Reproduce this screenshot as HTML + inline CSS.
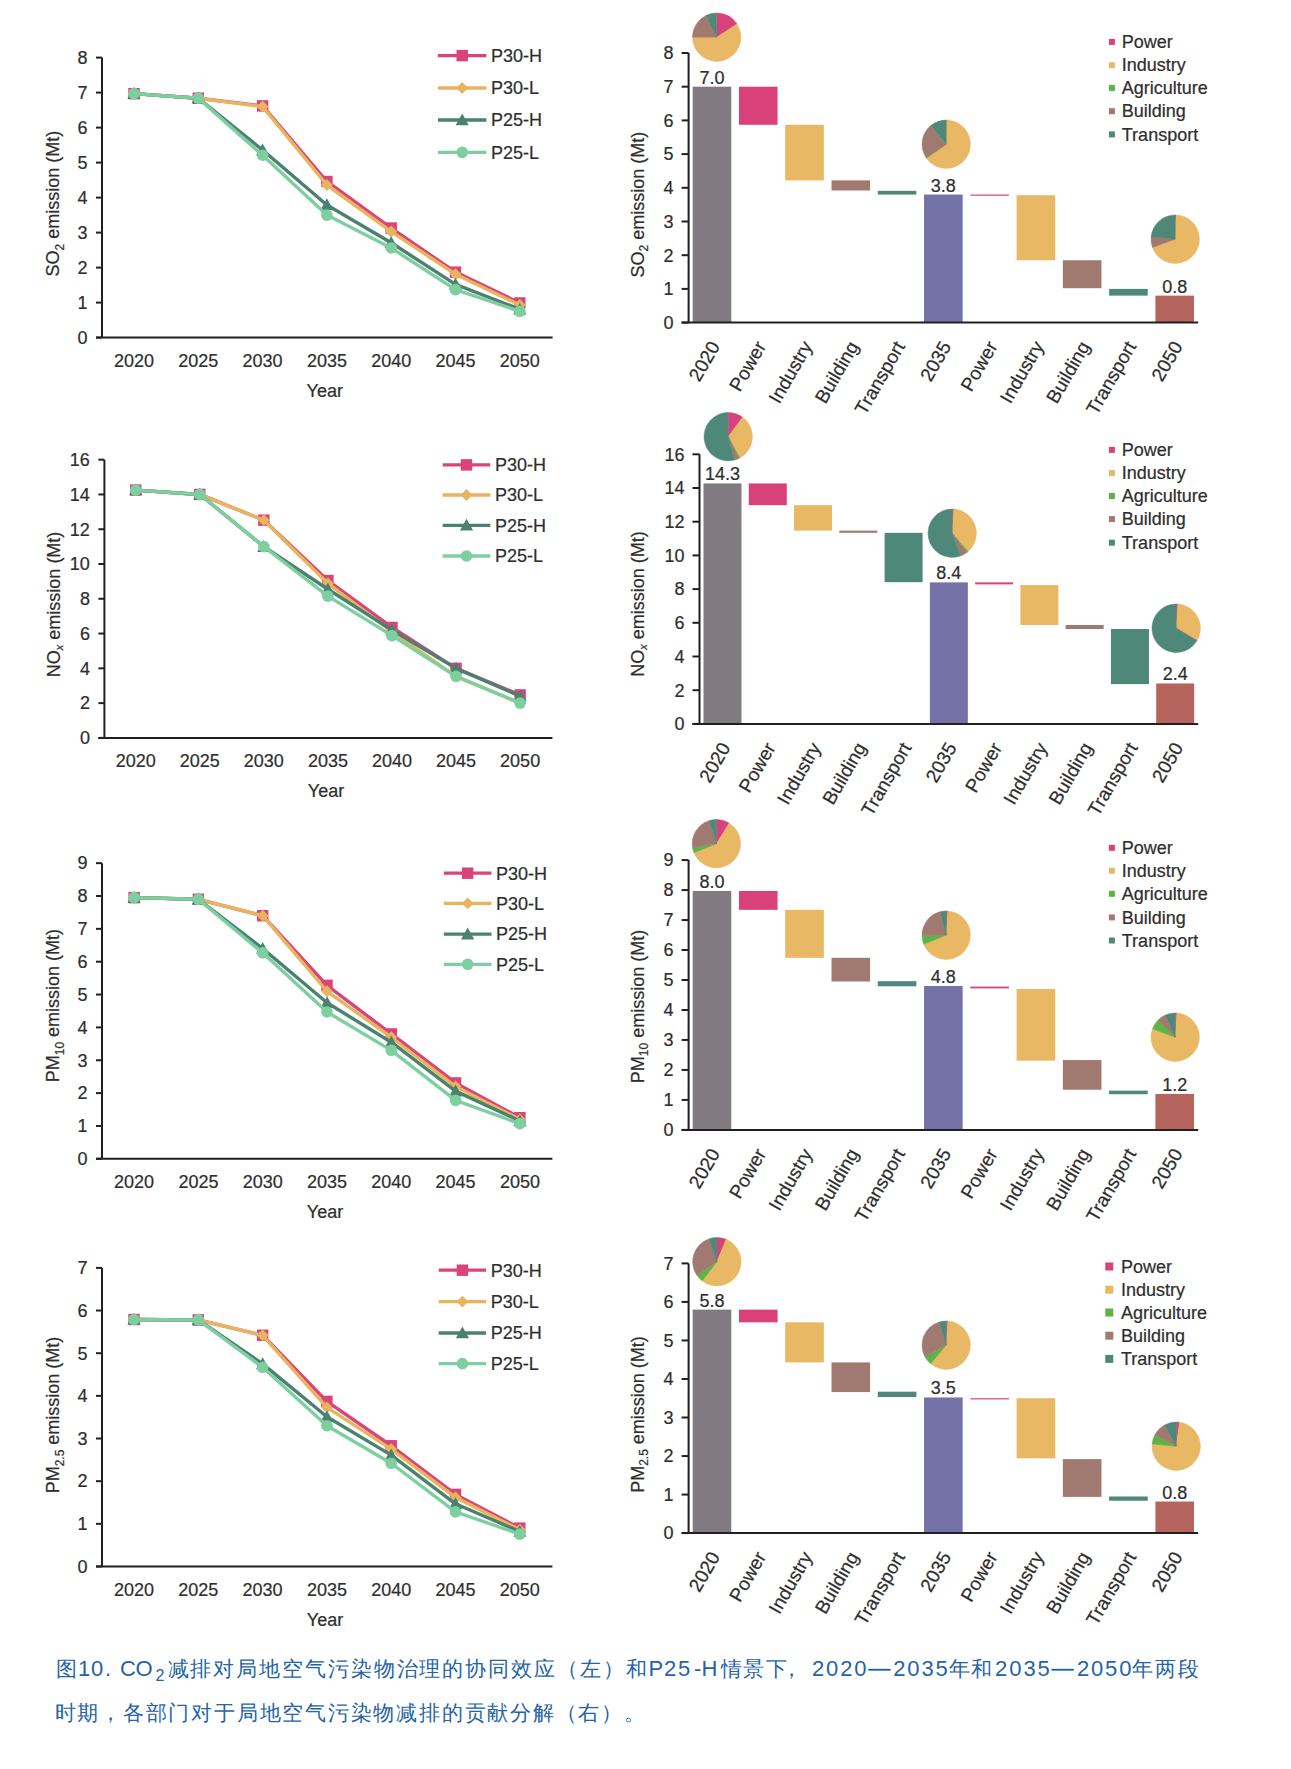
<!DOCTYPE html><html><head><meta charset="utf-8"><style>html,body{margin:0;padding:0;background:#fff;width:1291px;height:1769px;overflow:hidden}svg{display:block}</style></head><body>
<svg width="1291" height="1769" viewBox="0 0 1291 1769" font-family="'Liberation Sans', sans-serif" font-size="18" fill="#2e2e2e">
<style>svg text{stroke:#303030;stroke-width:0.22px}</style>
<rect width="1291" height="1769" fill="#fff"/>
<path d="M102 57.6V337.6" stroke="#231f20" stroke-width="2" fill="none"/>
<path d="M96 337.6H552.6" stroke="#231f20" stroke-width="2" fill="none"/>
<path d="M96 337.6H102" stroke="#231f20" stroke-width="2"/>
<text x="87.5" y="343.9" text-anchor="end">0</text>
<path d="M96 302.6H102" stroke="#231f20" stroke-width="2"/>
<text x="87.5" y="308.9" text-anchor="end">1</text>
<path d="M96 267.6H102" stroke="#231f20" stroke-width="2"/>
<text x="87.5" y="273.9" text-anchor="end">2</text>
<path d="M96 232.6H102" stroke="#231f20" stroke-width="2"/>
<text x="87.5" y="238.9" text-anchor="end">3</text>
<path d="M96 197.6H102" stroke="#231f20" stroke-width="2"/>
<text x="87.5" y="203.9" text-anchor="end">4</text>
<path d="M96 162.6H102" stroke="#231f20" stroke-width="2"/>
<text x="87.5" y="168.9" text-anchor="end">5</text>
<path d="M96 127.6H102" stroke="#231f20" stroke-width="2"/>
<text x="87.5" y="133.9" text-anchor="end">6</text>
<path d="M96 92.6H102" stroke="#231f20" stroke-width="2"/>
<text x="87.5" y="98.9" text-anchor="end">7</text>
<path d="M96 57.6H102" stroke="#231f20" stroke-width="2"/>
<text x="87.5" y="63.9" text-anchor="end">8</text>
<text x="134" y="366.6" text-anchor="middle">2020</text>
<text x="198.3" y="366.6" text-anchor="middle">2025</text>
<text x="262.6" y="366.6" text-anchor="middle">2030</text>
<text x="326.9" y="366.6" text-anchor="middle">2035</text>
<text x="391.2" y="366.6" text-anchor="middle">2040</text>
<text x="455.5" y="366.6" text-anchor="middle">2045</text>
<text x="519.8" y="366.6" text-anchor="middle">2050</text>
<text x="324.8" y="397.1" text-anchor="middle">Year</text>
<text transform="translate(59 203.7) rotate(-90)" text-anchor="middle">SO<tspan font-size="12" dy="4.5">2</tspan><tspan dy="-4.5"> emission (Mt)</tspan></text>
<path d="M134 93.65 L198.3 98.2 L262.6 105.9 L326.9 181.5 L391.2 228.05 L455.5 272.15 L519.8 302.95" stroke="#d9447a" stroke-width="3.4" fill="none" stroke-linejoin="round"/>
<rect x="128.28" y="87.93" width="11.44" height="11.44" fill="#d9447a"/>
<rect x="192.58" y="92.48" width="11.44" height="11.44" fill="#d9447a"/>
<rect x="256.88" y="100.18" width="11.44" height="11.44" fill="#d9447a"/>
<rect x="321.18" y="175.78" width="11.44" height="11.44" fill="#d9447a"/>
<rect x="385.48" y="222.33" width="11.44" height="11.44" fill="#d9447a"/>
<rect x="449.78" y="266.43" width="11.44" height="11.44" fill="#d9447a"/>
<rect x="514.08" y="297.23" width="11.44" height="11.44" fill="#d9447a"/>
<path d="M134 93.65 L198.3 98.2 L262.6 106.6 L326.9 185 L391.2 231.55 L455.5 274.25 L519.8 305.05" stroke="#e8b45e" stroke-width="3.4" fill="none" stroke-linejoin="round"/>
<path d="M134 87.71L139.94 93.65L134 99.59L128.06 93.65Z" fill="#e8b45e"/>
<path d="M198.3 92.26L204.24 98.2L198.3 104.14L192.36 98.2Z" fill="#e8b45e"/>
<path d="M262.6 100.66L268.54 106.6L262.6 112.54L256.66 106.6Z" fill="#e8b45e"/>
<path d="M326.9 179.06L332.84 185L326.9 190.94L320.96 185Z" fill="#e8b45e"/>
<path d="M391.2 225.61L397.14 231.55L391.2 237.49L385.26 231.55Z" fill="#e8b45e"/>
<path d="M455.5 268.31L461.44 274.25L455.5 280.19L449.56 274.25Z" fill="#e8b45e"/>
<path d="M519.8 299.11L525.74 305.05L519.8 310.99L513.86 305.05Z" fill="#e8b45e"/>
<path d="M134 93.65 L198.3 98.2 L262.6 150 L326.9 204.95 L391.2 242.75 L455.5 284.4 L519.8 309.25" stroke="#4a8170" stroke-width="3.4" fill="none" stroke-linejoin="round"/>
<path d="M134 87.05L140.6 98.93L127.4 98.93Z" fill="#4a8170"/>
<path d="M198.3 91.6L204.9 103.48L191.7 103.48Z" fill="#4a8170"/>
<path d="M262.6 143.4L269.2 155.28L256 155.28Z" fill="#4a8170"/>
<path d="M326.9 198.35L333.5 210.23L320.3 210.23Z" fill="#4a8170"/>
<path d="M391.2 236.15L397.8 248.03L384.6 248.03Z" fill="#4a8170"/>
<path d="M455.5 277.8L462.1 289.68L448.9 289.68Z" fill="#4a8170"/>
<path d="M519.8 302.65L526.4 314.53L513.2 314.53Z" fill="#4a8170"/>
<path d="M134 93.65 L198.3 98.2 L262.6 155.25 L326.9 215.1 L391.2 248 L455.5 289.65 L519.8 311.35" stroke="#7ecfa0" stroke-width="3.4" fill="none" stroke-linejoin="round"/>
<circle cx="134" cy="93.65" r="5.83" fill="#7ecfa0"/>
<circle cx="198.3" cy="98.2" r="5.83" fill="#7ecfa0"/>
<circle cx="262.6" cy="155.25" r="5.83" fill="#7ecfa0"/>
<circle cx="326.9" cy="215.1" r="5.83" fill="#7ecfa0"/>
<circle cx="391.2" cy="248" r="5.83" fill="#7ecfa0"/>
<circle cx="455.5" cy="289.65" r="5.83" fill="#7ecfa0"/>
<circle cx="519.8" cy="311.35" r="5.83" fill="#7ecfa0"/>
<path d="M438 55.6H486.4" stroke="#d9447a" stroke-width="3.3"/>
<rect x="456.48" y="49.88" width="11.44" height="11.44" fill="#d9447a"/>
<text x="491" y="61.9">P30-H</text>
<path d="M438 88H486.4" stroke="#e8b45e" stroke-width="3.3"/>
<path d="M462.2 82.06L468.14 88L462.2 93.94L456.26 88Z" fill="#e8b45e"/>
<text x="491" y="94.3">P30-L</text>
<path d="M438 120H486.4" stroke="#4a8170" stroke-width="3.3"/>
<path d="M462.2 113.4L468.8 125.28L455.6 125.28Z" fill="#4a8170"/>
<text x="491" y="126.3">P25-H</text>
<path d="M438 152.3H486.4" stroke="#7ecfa0" stroke-width="3.3"/>
<circle cx="462.2" cy="152.3" r="5.83" fill="#7ecfa0"/>
<text x="491" y="158.6">P25-L</text>
<path d="M104.4 459.66V737.9" stroke="#231f20" stroke-width="2" fill="none"/>
<path d="M98.4 737.9H552.4" stroke="#231f20" stroke-width="2" fill="none"/>
<path d="M98.4 737.9H104.4" stroke="#231f20" stroke-width="2"/>
<text x="89.9" y="744.2" text-anchor="end">0</text>
<path d="M98.4 703.12H104.4" stroke="#231f20" stroke-width="2"/>
<text x="89.9" y="709.42" text-anchor="end">2</text>
<path d="M98.4 668.34H104.4" stroke="#231f20" stroke-width="2"/>
<text x="89.9" y="674.64" text-anchor="end">4</text>
<path d="M98.4 633.56H104.4" stroke="#231f20" stroke-width="2"/>
<text x="89.9" y="639.86" text-anchor="end">6</text>
<path d="M98.4 598.78H104.4" stroke="#231f20" stroke-width="2"/>
<text x="89.9" y="605.08" text-anchor="end">8</text>
<path d="M98.4 564H104.4" stroke="#231f20" stroke-width="2"/>
<text x="89.9" y="570.3" text-anchor="end">10</text>
<path d="M98.4 529.22H104.4" stroke="#231f20" stroke-width="2"/>
<text x="89.9" y="535.52" text-anchor="end">12</text>
<path d="M98.4 494.44H104.4" stroke="#231f20" stroke-width="2"/>
<text x="89.9" y="500.74" text-anchor="end">14</text>
<path d="M98.4 459.66H104.4" stroke="#231f20" stroke-width="2"/>
<text x="89.9" y="465.96" text-anchor="end">16</text>
<text x="135.7" y="766.9" text-anchor="middle">2020</text>
<text x="199.77" y="766.9" text-anchor="middle">2025</text>
<text x="263.84" y="766.9" text-anchor="middle">2030</text>
<text x="327.91" y="766.9" text-anchor="middle">2035</text>
<text x="391.98" y="766.9" text-anchor="middle">2040</text>
<text x="456.05" y="766.9" text-anchor="middle">2045</text>
<text x="520.12" y="766.9" text-anchor="middle">2050</text>
<text x="326" y="797.4" text-anchor="middle">Year</text>
<text transform="translate(59.7 604.4) rotate(-90)" text-anchor="middle">NO<tspan font-size="11" dy="3" font-style="italic">x</tspan><tspan dy="-3"> emission (Mt)</tspan></text>
<path d="M135.7 490.09 L199.77 494.44 L263.84 520.18 L327.91 580.52 L391.98 627.47 L456.05 668.34 L520.12 694.95" stroke="#d9447a" stroke-width="3.4" fill="none" stroke-linejoin="round"/>
<rect x="129.98" y="484.37" width="11.44" height="11.44" fill="#d9447a"/>
<rect x="194.05" y="488.72" width="11.44" height="11.44" fill="#d9447a"/>
<rect x="258.12" y="514.46" width="11.44" height="11.44" fill="#d9447a"/>
<rect x="322.19" y="574.8" width="11.44" height="11.44" fill="#d9447a"/>
<rect x="386.26" y="621.75" width="11.44" height="11.44" fill="#d9447a"/>
<rect x="450.33" y="662.62" width="11.44" height="11.44" fill="#d9447a"/>
<rect x="514.4" y="689.23" width="11.44" height="11.44" fill="#d9447a"/>
<path d="M135.7 490.09 L199.77 494.44 L263.84 520.18 L327.91 583.48 L391.98 631.82 L456.05 676.34 L520.12 703.12" stroke="#e8b45e" stroke-width="3.4" fill="none" stroke-linejoin="round"/>
<path d="M135.7 484.15L141.64 490.09L135.7 496.03L129.76 490.09Z" fill="#e8b45e"/>
<path d="M199.77 488.5L205.71 494.44L199.77 500.38L193.83 494.44Z" fill="#e8b45e"/>
<path d="M263.84 514.24L269.78 520.18L263.84 526.12L257.9 520.18Z" fill="#e8b45e"/>
<path d="M327.91 577.54L333.85 583.48L327.91 589.42L321.97 583.48Z" fill="#e8b45e"/>
<path d="M391.98 625.88L397.92 631.82L391.98 637.76L386.04 631.82Z" fill="#e8b45e"/>
<path d="M456.05 670.4L461.99 676.34L456.05 682.28L450.11 676.34Z" fill="#e8b45e"/>
<path d="M520.12 697.18L526.06 703.12L520.12 709.06L514.18 703.12Z" fill="#e8b45e"/>
<path d="M135.7 490.09 L199.77 494.44 L263.84 546.61 L327.91 589.22 L391.98 630.08 L456.05 668.34 L520.12 696.16" stroke="#4a8170" stroke-width="3.4" fill="none" stroke-linejoin="round"/>
<path d="M135.7 483.49L142.3 495.37L129.1 495.37Z" fill="#4a8170"/>
<path d="M199.77 487.84L206.37 499.72L193.17 499.72Z" fill="#4a8170"/>
<path d="M263.84 540.01L270.44 551.89L257.24 551.89Z" fill="#4a8170"/>
<path d="M327.91 582.62L334.51 594.5L321.31 594.5Z" fill="#4a8170"/>
<path d="M391.98 623.48L398.58 635.36L385.38 635.36Z" fill="#4a8170"/>
<path d="M456.05 661.74L462.65 673.62L449.45 673.62Z" fill="#4a8170"/>
<path d="M520.12 689.56L526.72 701.44L513.52 701.44Z" fill="#4a8170"/>
<path d="M135.7 490.09 L199.77 494.44 L263.84 546.61 L327.91 596.17 L391.98 635.65 L456.05 676.34 L520.12 703.12" stroke="#7ecfa0" stroke-width="3.4" fill="none" stroke-linejoin="round"/>
<circle cx="135.7" cy="490.09" r="5.83" fill="#7ecfa0"/>
<circle cx="199.77" cy="494.44" r="5.83" fill="#7ecfa0"/>
<circle cx="263.84" cy="546.61" r="5.83" fill="#7ecfa0"/>
<circle cx="327.91" cy="596.17" r="5.83" fill="#7ecfa0"/>
<circle cx="391.98" cy="635.65" r="5.83" fill="#7ecfa0"/>
<circle cx="456.05" cy="676.34" r="5.83" fill="#7ecfa0"/>
<circle cx="520.12" cy="703.12" r="5.83" fill="#7ecfa0"/>
<path d="M442.7 464.9H490.3" stroke="#d9447a" stroke-width="3.3"/>
<rect x="460.78" y="459.18" width="11.44" height="11.44" fill="#d9447a"/>
<text x="495" y="471.2">P30-H</text>
<path d="M442.7 495H490.3" stroke="#e8b45e" stroke-width="3.3"/>
<path d="M466.5 489.06L472.44 495L466.5 500.94L460.56 495Z" fill="#e8b45e"/>
<text x="495" y="501.3">P30-L</text>
<path d="M442.7 525.3H490.3" stroke="#4a8170" stroke-width="3.3"/>
<path d="M466.5 518.7L473.1 530.58L459.9 530.58Z" fill="#4a8170"/>
<text x="495" y="531.6">P25-H</text>
<path d="M442.7 556H490.3" stroke="#7ecfa0" stroke-width="3.3"/>
<circle cx="466.5" cy="556" r="5.83" fill="#7ecfa0"/>
<text x="495" y="562.3">P25-L</text>
<path d="M102 863.15V1158.8" stroke="#231f20" stroke-width="2" fill="none"/>
<path d="M96 1158.8H552.4" stroke="#231f20" stroke-width="2" fill="none"/>
<path d="M96 1158.8H102" stroke="#231f20" stroke-width="2"/>
<text x="87.5" y="1165.1" text-anchor="end">0</text>
<path d="M96 1125.95H102" stroke="#231f20" stroke-width="2"/>
<text x="87.5" y="1132.25" text-anchor="end">1</text>
<path d="M96 1093.1H102" stroke="#231f20" stroke-width="2"/>
<text x="87.5" y="1099.4" text-anchor="end">2</text>
<path d="M96 1060.25H102" stroke="#231f20" stroke-width="2"/>
<text x="87.5" y="1066.55" text-anchor="end">3</text>
<path d="M96 1027.4H102" stroke="#231f20" stroke-width="2"/>
<text x="87.5" y="1033.7" text-anchor="end">4</text>
<path d="M96 994.55H102" stroke="#231f20" stroke-width="2"/>
<text x="87.5" y="1000.85" text-anchor="end">5</text>
<path d="M96 961.7H102" stroke="#231f20" stroke-width="2"/>
<text x="87.5" y="968" text-anchor="end">6</text>
<path d="M96 928.85H102" stroke="#231f20" stroke-width="2"/>
<text x="87.5" y="935.15" text-anchor="end">7</text>
<path d="M96 896H102" stroke="#231f20" stroke-width="2"/>
<text x="87.5" y="902.3" text-anchor="end">8</text>
<path d="M96 863.15H102" stroke="#231f20" stroke-width="2"/>
<text x="87.5" y="869.45" text-anchor="end">9</text>
<text x="134.1" y="1187.8" text-anchor="middle">2020</text>
<text x="198.4" y="1187.8" text-anchor="middle">2025</text>
<text x="262.7" y="1187.8" text-anchor="middle">2030</text>
<text x="327" y="1187.8" text-anchor="middle">2035</text>
<text x="391.3" y="1187.8" text-anchor="middle">2040</text>
<text x="455.6" y="1187.8" text-anchor="middle">2045</text>
<text x="519.9" y="1187.8" text-anchor="middle">2050</text>
<text x="325" y="1218.3" text-anchor="middle">Year</text>
<text transform="translate(59 1005.6) rotate(-90)" text-anchor="middle">PM<tspan font-size="12" dy="4.5">10</tspan><tspan dy="-4.5"> emission (Mt)</tspan></text>
<path d="M134.1 897.64 L198.4 899.28 L262.7 915.71 L327 985.35 L391.3 1033.97 L455.6 1082.92 L519.9 1117.74" stroke="#d9447a" stroke-width="3.4" fill="none" stroke-linejoin="round"/>
<rect x="128.38" y="891.92" width="11.44" height="11.44" fill="#d9447a"/>
<rect x="192.68" y="893.56" width="11.44" height="11.44" fill="#d9447a"/>
<rect x="256.98" y="909.99" width="11.44" height="11.44" fill="#d9447a"/>
<rect x="321.28" y="979.63" width="11.44" height="11.44" fill="#d9447a"/>
<rect x="385.58" y="1028.25" width="11.44" height="11.44" fill="#d9447a"/>
<rect x="449.88" y="1077.2" width="11.44" height="11.44" fill="#d9447a"/>
<rect x="514.18" y="1112.02" width="11.44" height="11.44" fill="#d9447a"/>
<path d="M134.1 897.64 L198.4 899.28 L262.7 915.71 L327 991.26 L391.3 1037.25 L455.6 1086.53 L519.9 1119.38" stroke="#e8b45e" stroke-width="3.4" fill="none" stroke-linejoin="round"/>
<path d="M134.1 891.7L140.04 897.64L134.1 903.58L128.16 897.64Z" fill="#e8b45e"/>
<path d="M198.4 893.34L204.34 899.28L198.4 905.22L192.46 899.28Z" fill="#e8b45e"/>
<path d="M262.7 909.77L268.64 915.71L262.7 921.65L256.76 915.71Z" fill="#e8b45e"/>
<path d="M327 985.32L332.94 991.26L327 997.21L321.06 991.26Z" fill="#e8b45e"/>
<path d="M391.3 1031.31L397.24 1037.25L391.3 1043.19L385.36 1037.25Z" fill="#e8b45e"/>
<path d="M455.6 1080.59L461.54 1086.53L455.6 1092.47L449.66 1086.53Z" fill="#e8b45e"/>
<path d="M519.9 1113.44L525.84 1119.38L519.9 1125.32L513.96 1119.38Z" fill="#e8b45e"/>
<path d="M134.1 897.64 L198.4 899.28 L262.7 948.56 L327 1002.76 L391.3 1042.18 L455.6 1091.13 L519.9 1121.02" stroke="#4a8170" stroke-width="3.4" fill="none" stroke-linejoin="round"/>
<path d="M134.1 891.04L140.7 902.92L127.5 902.92Z" fill="#4a8170"/>
<path d="M198.4 892.68L205 904.56L191.8 904.56Z" fill="#4a8170"/>
<path d="M262.7 941.96L269.3 953.84L256.1 953.84Z" fill="#4a8170"/>
<path d="M327 996.16L333.6 1008.04L320.4 1008.04Z" fill="#4a8170"/>
<path d="M391.3 1035.58L397.9 1047.46L384.7 1047.46Z" fill="#4a8170"/>
<path d="M455.6 1084.53L462.2 1096.41L449 1096.41Z" fill="#4a8170"/>
<path d="M519.9 1114.42L526.5 1126.3L513.3 1126.3Z" fill="#4a8170"/>
<path d="M134.1 897.64 L198.4 899.28 L262.7 952.83 L327 1011.96 L391.3 1050.39 L455.6 1100.33 L519.9 1123.65" stroke="#7ecfa0" stroke-width="3.4" fill="none" stroke-linejoin="round"/>
<circle cx="134.1" cy="897.64" r="5.83" fill="#7ecfa0"/>
<circle cx="198.4" cy="899.28" r="5.83" fill="#7ecfa0"/>
<circle cx="262.7" cy="952.83" r="5.83" fill="#7ecfa0"/>
<circle cx="327" cy="1011.96" r="5.83" fill="#7ecfa0"/>
<circle cx="391.3" cy="1050.39" r="5.83" fill="#7ecfa0"/>
<circle cx="455.6" cy="1100.33" r="5.83" fill="#7ecfa0"/>
<circle cx="519.9" cy="1123.65" r="5.83" fill="#7ecfa0"/>
<path d="M443.8 873.2H491.5" stroke="#d9447a" stroke-width="3.3"/>
<rect x="461.93" y="867.48" width="11.44" height="11.44" fill="#d9447a"/>
<text x="496" y="879.5">P30-H</text>
<path d="M443.8 903.4H491.5" stroke="#e8b45e" stroke-width="3.3"/>
<path d="M467.65 897.46L473.59 903.4L467.65 909.34L461.71 903.4Z" fill="#e8b45e"/>
<text x="496" y="909.7">P30-L</text>
<path d="M443.8 934.1H491.5" stroke="#4a8170" stroke-width="3.3"/>
<path d="M467.65 927.5L474.25 939.38L461.05 939.38Z" fill="#4a8170"/>
<text x="496" y="940.4">P25-H</text>
<path d="M443.8 964.3H491.5" stroke="#7ecfa0" stroke-width="3.3"/>
<circle cx="467.65" cy="964.3" r="5.83" fill="#7ecfa0"/>
<text x="496" y="970.6">P25-L</text>
<path d="M102 1267.88V1566.5" stroke="#231f20" stroke-width="2" fill="none"/>
<path d="M96 1566.5H552.4" stroke="#231f20" stroke-width="2" fill="none"/>
<path d="M96 1566.5H102" stroke="#231f20" stroke-width="2"/>
<text x="87.5" y="1572.8" text-anchor="end">0</text>
<path d="M96 1523.84H102" stroke="#231f20" stroke-width="2"/>
<text x="87.5" y="1530.14" text-anchor="end">1</text>
<path d="M96 1481.18H102" stroke="#231f20" stroke-width="2"/>
<text x="87.5" y="1487.48" text-anchor="end">2</text>
<path d="M96 1438.52H102" stroke="#231f20" stroke-width="2"/>
<text x="87.5" y="1444.82" text-anchor="end">3</text>
<path d="M96 1395.86H102" stroke="#231f20" stroke-width="2"/>
<text x="87.5" y="1402.16" text-anchor="end">4</text>
<path d="M96 1353.2H102" stroke="#231f20" stroke-width="2"/>
<text x="87.5" y="1359.5" text-anchor="end">5</text>
<path d="M96 1310.54H102" stroke="#231f20" stroke-width="2"/>
<text x="87.5" y="1316.84" text-anchor="end">6</text>
<path d="M96 1267.88H102" stroke="#231f20" stroke-width="2"/>
<text x="87.5" y="1274.18" text-anchor="end">7</text>
<text x="134" y="1595.5" text-anchor="middle">2020</text>
<text x="198.3" y="1595.5" text-anchor="middle">2025</text>
<text x="262.6" y="1595.5" text-anchor="middle">2030</text>
<text x="326.9" y="1595.5" text-anchor="middle">2035</text>
<text x="391.2" y="1595.5" text-anchor="middle">2040</text>
<text x="455.5" y="1595.5" text-anchor="middle">2045</text>
<text x="519.8" y="1595.5" text-anchor="middle">2050</text>
<text x="325" y="1626" text-anchor="middle">Year</text>
<text transform="translate(59 1415) rotate(-90)" text-anchor="middle">PM<tspan font-size="12" dy="4.5">2.5</tspan><tspan dy="-4.5"> emission (Mt)</tspan></text>
<path d="M134 1319.5 L198.3 1319.93 L262.6 1335.28 L326.9 1401.41 L391.2 1445.77 L455.5 1494.4 L519.8 1528.11" stroke="#d9447a" stroke-width="3.4" fill="none" stroke-linejoin="round"/>
<rect x="128.28" y="1313.78" width="11.44" height="11.44" fill="#d9447a"/>
<rect x="192.58" y="1314.21" width="11.44" height="11.44" fill="#d9447a"/>
<rect x="256.88" y="1329.56" width="11.44" height="11.44" fill="#d9447a"/>
<rect x="321.18" y="1395.69" width="11.44" height="11.44" fill="#d9447a"/>
<rect x="385.48" y="1440.05" width="11.44" height="11.44" fill="#d9447a"/>
<rect x="449.78" y="1488.68" width="11.44" height="11.44" fill="#d9447a"/>
<rect x="514.08" y="1522.39" width="11.44" height="11.44" fill="#d9447a"/>
<path d="M134 1319.5 L198.3 1319.93 L262.6 1335.28 L326.9 1407.38 L391.2 1449.18 L455.5 1497.39 L519.8 1529.81" stroke="#e8b45e" stroke-width="3.4" fill="none" stroke-linejoin="round"/>
<path d="M134 1313.56L139.94 1319.5L134 1325.44L128.06 1319.5Z" fill="#e8b45e"/>
<path d="M198.3 1313.99L204.24 1319.93L198.3 1325.87L192.36 1319.93Z" fill="#e8b45e"/>
<path d="M262.6 1329.34L268.54 1335.28L262.6 1341.22L256.66 1335.28Z" fill="#e8b45e"/>
<path d="M326.9 1401.44L332.84 1407.38L326.9 1413.32L320.96 1407.38Z" fill="#e8b45e"/>
<path d="M391.2 1443.24L397.14 1449.18L391.2 1455.12L385.26 1449.18Z" fill="#e8b45e"/>
<path d="M455.5 1491.45L461.44 1497.39L455.5 1503.33L449.56 1497.39Z" fill="#e8b45e"/>
<path d="M519.8 1523.87L525.74 1529.81L519.8 1535.75L513.86 1529.81Z" fill="#e8b45e"/>
<path d="M134 1319.5 L198.3 1319.93 L262.6 1363.87 L326.9 1416.76 L391.2 1455.16 L455.5 1503.79 L519.8 1531.52" stroke="#4a8170" stroke-width="3.4" fill="none" stroke-linejoin="round"/>
<path d="M134 1312.9L140.6 1324.78L127.4 1324.78Z" fill="#4a8170"/>
<path d="M198.3 1313.33L204.9 1325.21L191.7 1325.21Z" fill="#4a8170"/>
<path d="M262.6 1357.27L269.2 1369.14L256 1369.14Z" fill="#4a8170"/>
<path d="M326.9 1410.16L333.5 1422.04L320.3 1422.04Z" fill="#4a8170"/>
<path d="M391.2 1448.56L397.8 1460.44L384.6 1460.44Z" fill="#4a8170"/>
<path d="M455.5 1497.19L462.1 1509.07L448.9 1509.07Z" fill="#4a8170"/>
<path d="M519.8 1524.92L526.4 1536.8L513.2 1536.8Z" fill="#4a8170"/>
<path d="M134 1319.5 L198.3 1319.93 L262.6 1367.28 L326.9 1425.72 L391.2 1463.26 L455.5 1511.9 L519.8 1534.08" stroke="#7ecfa0" stroke-width="3.4" fill="none" stroke-linejoin="round"/>
<circle cx="134" cy="1319.5" r="5.83" fill="#7ecfa0"/>
<circle cx="198.3" cy="1319.93" r="5.83" fill="#7ecfa0"/>
<circle cx="262.6" cy="1367.28" r="5.83" fill="#7ecfa0"/>
<circle cx="326.9" cy="1425.72" r="5.83" fill="#7ecfa0"/>
<circle cx="391.2" cy="1463.26" r="5.83" fill="#7ecfa0"/>
<circle cx="455.5" cy="1511.9" r="5.83" fill="#7ecfa0"/>
<circle cx="519.8" cy="1534.08" r="5.83" fill="#7ecfa0"/>
<path d="M438.7 1270.2H486.1" stroke="#d9447a" stroke-width="3.3"/>
<rect x="456.68" y="1264.48" width="11.44" height="11.44" fill="#d9447a"/>
<text x="490.8" y="1276.5">P30-H</text>
<path d="M438.7 1301.6H486.1" stroke="#e8b45e" stroke-width="3.3"/>
<path d="M462.4 1295.66L468.34 1301.6L462.4 1307.54L456.46 1301.6Z" fill="#e8b45e"/>
<text x="490.8" y="1307.9">P30-L</text>
<path d="M438.7 1333H486.1" stroke="#4a8170" stroke-width="3.3"/>
<path d="M462.4 1326.4L469 1338.28L455.8 1338.28Z" fill="#4a8170"/>
<text x="490.8" y="1339.3">P25-H</text>
<path d="M438.7 1363.6H486.1" stroke="#7ecfa0" stroke-width="3.3"/>
<circle cx="462.4" cy="1363.6" r="5.83" fill="#7ecfa0"/>
<text x="490.8" y="1369.9">P25-L</text>
<rect x="692.7" y="86.7" width="38.6" height="235.9" fill="#817a81"/>
<rect x="738.97" y="86.7" width="38.6" height="38.08" fill="#d9417b"/>
<rect x="785.24" y="124.78" width="38.6" height="55.61" fill="#e8b865"/>
<rect x="831.51" y="180.39" width="38.6" height="10.11" fill="#a07a70"/>
<rect x="877.78" y="190.83" width="38.6" height="3.71" fill="#4e8878"/>
<rect x="924.05" y="194.54" width="38.6" height="128.06" fill="#7572a8"/>
<rect x="970.32" y="194.54" width="38.6" height="1.2" fill="#d9417b"/>
<rect x="1016.59" y="195.21" width="38.6" height="65.04" fill="#e8b865"/>
<rect x="1062.86" y="260.25" width="38.6" height="27.97" fill="#a07a70"/>
<rect x="1109.13" y="288.9" width="38.6" height="6.74" fill="#4e8878"/>
<rect x="1155.4" y="295.64" width="38.6" height="26.96" fill="#b5655e"/>
<path d="M688.6 53V322.6" stroke="#231f20" stroke-width="2" fill="none"/>
<path d="M681.6 322.6H1198.2" stroke="#231f20" stroke-width="2" fill="none"/>
<path d="M681.6 322.6H688.6" stroke="#231f20" stroke-width="2"/>
<text x="673.6" y="328.9" text-anchor="end">0</text>
<path d="M681.6 288.9H688.6" stroke="#231f20" stroke-width="2"/>
<text x="673.6" y="295.2" text-anchor="end">1</text>
<path d="M681.6 255.2H688.6" stroke="#231f20" stroke-width="2"/>
<text x="673.6" y="261.5" text-anchor="end">2</text>
<path d="M681.6 221.5H688.6" stroke="#231f20" stroke-width="2"/>
<text x="673.6" y="227.8" text-anchor="end">3</text>
<path d="M681.6 187.8H688.6" stroke="#231f20" stroke-width="2"/>
<text x="673.6" y="194.1" text-anchor="end">4</text>
<path d="M681.6 154.1H688.6" stroke="#231f20" stroke-width="2"/>
<text x="673.6" y="160.4" text-anchor="end">5</text>
<path d="M681.6 120.4H688.6" stroke="#231f20" stroke-width="2"/>
<text x="673.6" y="126.7" text-anchor="end">6</text>
<path d="M681.6 86.7H688.6" stroke="#231f20" stroke-width="2"/>
<text x="673.6" y="93" text-anchor="end">7</text>
<path d="M681.6 53H688.6" stroke="#231f20" stroke-width="2"/>
<text x="673.6" y="59.3" text-anchor="end">8</text>
<text x="712" y="83.7" text-anchor="middle">7.0</text>
<text x="943.35" y="191.54" text-anchor="middle">3.8</text>
<text x="1174.7" y="292.64" text-anchor="middle">0.8</text>
<text transform="translate(720.5 346.1) rotate(-60)" text-anchor="end" font-size="19">2020</text>
<text transform="translate(766.77 346.1) rotate(-60)" text-anchor="end" font-size="19">Power</text>
<text transform="translate(813.04 346.1) rotate(-60)" text-anchor="end" font-size="19">Industry</text>
<text transform="translate(859.31 346.1) rotate(-60)" text-anchor="end" font-size="19">Building</text>
<text transform="translate(905.58 346.1) rotate(-60)" text-anchor="end" font-size="19">Transport</text>
<text transform="translate(951.85 346.1) rotate(-60)" text-anchor="end" font-size="19">2035</text>
<text transform="translate(998.12 346.1) rotate(-60)" text-anchor="end" font-size="19">Power</text>
<text transform="translate(1044.39 346.1) rotate(-60)" text-anchor="end" font-size="19">Industry</text>
<text transform="translate(1090.66 346.1) rotate(-60)" text-anchor="end" font-size="19">Building</text>
<text transform="translate(1136.93 346.1) rotate(-60)" text-anchor="end" font-size="19">Transport</text>
<text transform="translate(1183.2 346.1) rotate(-60)" text-anchor="end" font-size="19">2050</text>
<text transform="translate(643.9 204.7) rotate(-90)" text-anchor="middle">SO<tspan font-size="12" dy="4.5">2</tspan><tspan dy="-4.5"> emission (Mt)</tspan></text>
<path d="M716.7 37.2L716.7 13A24.2 24.2 0 0 1 737 24.02Z" fill="#d9417b" stroke="#d9417b" stroke-width="0.5" stroke-linejoin="round"/>
<path d="M716.7 37.2L737 24.02A24.2 24.2 0 1 1 692.5 37.2Z" fill="#e8b865" stroke="#e8b865" stroke-width="0.5" stroke-linejoin="round"/>
<path d="M716.7 37.2L692.5 37.2A24.2 24.2 0 0 1 706.09 15.45Z" fill="#a07a70" stroke="#a07a70" stroke-width="0.5" stroke-linejoin="round"/>
<path d="M716.7 37.2L706.09 15.45A24.2 24.2 0 0 1 716.7 13Z" fill="#4e8878" stroke="#4e8878" stroke-width="0.5" stroke-linejoin="round"/>
<path d="M946.2 144.2L946.2 120A24.2 24.2 0 0 1 946.62 120Z" fill="#d9417b" stroke="#d9417b" stroke-width="0.5" stroke-linejoin="round"/>
<path d="M946.2 144.2L946.62 120A24.2 24.2 0 1 1 926.5 158.25Z" fill="#e8b865" stroke="#e8b865" stroke-width="0.5" stroke-linejoin="round"/>
<path d="M946.2 144.2L926.5 158.25A24.2 24.2 0 0 1 926.14 157.73Z" fill="#5db345" stroke="#5db345" stroke-width="0.5" stroke-linejoin="round"/>
<path d="M946.2 144.2L926.14 157.73A24.2 24.2 0 0 1 930.81 125.53Z" fill="#a07a70" stroke="#a07a70" stroke-width="0.5" stroke-linejoin="round"/>
<path d="M946.2 144.2L930.81 125.53A24.2 24.2 0 0 1 946.2 120Z" fill="#4e8878" stroke="#4e8878" stroke-width="0.5" stroke-linejoin="round"/>
<path d="M1175.2 239.2L1175.2 215A24.2 24.2 0 0 1 1176.04 215.01Z" fill="#d9417b" stroke="#d9417b" stroke-width="0.5" stroke-linejoin="round"/>
<path d="M1175.2 239.2L1176.04 215.01A24.2 24.2 0 1 1 1152.46 247.48Z" fill="#e8b865" stroke="#e8b865" stroke-width="0.5" stroke-linejoin="round"/>
<path d="M1175.2 239.2L1152.46 247.48A24.2 24.2 0 0 1 1151.13 236.67Z" fill="#a07a70" stroke="#a07a70" stroke-width="0.5" stroke-linejoin="round"/>
<path d="M1175.2 239.2L1151.13 236.67A24.2 24.2 0 0 1 1175.2 215Z" fill="#4e8878" stroke="#4e8878" stroke-width="0.5" stroke-linejoin="round"/>
<rect x="1108.9" y="38.9" width="6" height="6" fill="#d9417b"/>
<text x="1121.8" y="48.1">Power</text>
<rect x="1108.9" y="62.2" width="6" height="6" fill="#e8b865"/>
<text x="1121.8" y="71.4">Industry</text>
<rect x="1108.9" y="84.9" width="6" height="6" fill="#5db345"/>
<text x="1121.8" y="94.1">Agriculture</text>
<rect x="1108.9" y="108.2" width="6" height="6" fill="#a07a70"/>
<text x="1121.8" y="117.4">Building</text>
<rect x="1108.9" y="131.4" width="6" height="6" fill="#4e8878"/>
<text x="1121.8" y="140.6">Transport</text>
<rect x="703.5" y="483.45" width="38" height="240.45" fill="#817a81"/>
<rect x="748.77" y="483.45" width="38" height="21.74" fill="#d9417b"/>
<rect x="794.04" y="505.19" width="38" height="25.44" fill="#e8b865"/>
<rect x="839.31" y="530.63" width="38" height="2.19" fill="#a07a70"/>
<rect x="884.58" y="532.82" width="38" height="49.37" fill="#4e8878"/>
<rect x="929.85" y="582.36" width="38" height="141.54" fill="#7572a8"/>
<rect x="975.12" y="582.36" width="38" height="2.02" fill="#d9417b"/>
<rect x="1020.39" y="585.06" width="38" height="39.93" fill="#e8b865"/>
<rect x="1065.66" y="624.99" width="38" height="4.04" fill="#a07a70"/>
<rect x="1110.93" y="629.03" width="38" height="55.1" fill="#4e8878"/>
<rect x="1156.2" y="683.46" width="38" height="40.44" fill="#b5655e"/>
<path d="M699.5 454.3V723.9" stroke="#231f20" stroke-width="2" fill="none"/>
<path d="M692.5 723.9H1198.2" stroke="#231f20" stroke-width="2" fill="none"/>
<path d="M692.5 723.9H699.5" stroke="#231f20" stroke-width="2"/>
<text x="684.5" y="730.2" text-anchor="end">0</text>
<path d="M692.5 690.2H699.5" stroke="#231f20" stroke-width="2"/>
<text x="684.5" y="696.5" text-anchor="end">2</text>
<path d="M692.5 656.5H699.5" stroke="#231f20" stroke-width="2"/>
<text x="684.5" y="662.8" text-anchor="end">4</text>
<path d="M692.5 622.8H699.5" stroke="#231f20" stroke-width="2"/>
<text x="684.5" y="629.1" text-anchor="end">6</text>
<path d="M692.5 589.1H699.5" stroke="#231f20" stroke-width="2"/>
<text x="684.5" y="595.4" text-anchor="end">8</text>
<path d="M692.5 555.4H699.5" stroke="#231f20" stroke-width="2"/>
<text x="684.5" y="561.7" text-anchor="end">10</text>
<path d="M692.5 521.7H699.5" stroke="#231f20" stroke-width="2"/>
<text x="684.5" y="528" text-anchor="end">12</text>
<path d="M692.5 488H699.5" stroke="#231f20" stroke-width="2"/>
<text x="684.5" y="494.3" text-anchor="end">14</text>
<path d="M692.5 454.3H699.5" stroke="#231f20" stroke-width="2"/>
<text x="684.5" y="460.6" text-anchor="end">16</text>
<text x="722.5" y="480.45" text-anchor="middle">14.3</text>
<text x="948.85" y="579.36" text-anchor="middle">8.4</text>
<text x="1175.2" y="680.46" text-anchor="middle">2.4</text>
<text transform="translate(731 747.4) rotate(-60)" text-anchor="end" font-size="19">2020</text>
<text transform="translate(776.27 747.4) rotate(-60)" text-anchor="end" font-size="19">Power</text>
<text transform="translate(821.54 747.4) rotate(-60)" text-anchor="end" font-size="19">Industry</text>
<text transform="translate(866.81 747.4) rotate(-60)" text-anchor="end" font-size="19">Building</text>
<text transform="translate(912.08 747.4) rotate(-60)" text-anchor="end" font-size="19">Transport</text>
<text transform="translate(957.35 747.4) rotate(-60)" text-anchor="end" font-size="19">2035</text>
<text transform="translate(1002.62 747.4) rotate(-60)" text-anchor="end" font-size="19">Power</text>
<text transform="translate(1047.89 747.4) rotate(-60)" text-anchor="end" font-size="19">Industry</text>
<text transform="translate(1093.16 747.4) rotate(-60)" text-anchor="end" font-size="19">Building</text>
<text transform="translate(1138.43 747.4) rotate(-60)" text-anchor="end" font-size="19">Transport</text>
<text transform="translate(1183.7 747.4) rotate(-60)" text-anchor="end" font-size="19">2050</text>
<text transform="translate(643.9 604) rotate(-90)" text-anchor="middle">NO<tspan font-size="11" dy="3" font-style="italic">x</tspan><tspan dy="-3"> emission (Mt)</tspan></text>
<path d="M728.2 436.7L728.2 412.5A24.2 24.2 0 0 1 742.7 417.32Z" fill="#d9417b" stroke="#d9417b" stroke-width="0.5" stroke-linejoin="round"/>
<path d="M728.2 436.7L742.7 417.32A24.2 24.2 0 0 1 739.75 457.97Z" fill="#e8b865" stroke="#e8b865" stroke-width="0.5" stroke-linejoin="round"/>
<path d="M728.2 436.7L739.75 457.97A24.2 24.2 0 0 1 738.81 458.45Z" fill="#5db345" stroke="#5db345" stroke-width="0.5" stroke-linejoin="round"/>
<path d="M728.2 436.7L738.81 458.45A24.2 24.2 0 0 1 734.46 460.08Z" fill="#a07a70" stroke="#a07a70" stroke-width="0.5" stroke-linejoin="round"/>
<path d="M728.2 436.7L734.46 460.08A24.2 24.2 0 1 1 728.2 412.5Z" fill="#4e8878" stroke="#4e8878" stroke-width="0.5" stroke-linejoin="round"/>
<path d="M952.2 533.2L952.2 509A24.2 24.2 0 0 1 953.89 509.06Z" fill="#d9417b" stroke="#d9417b" stroke-width="0.5" stroke-linejoin="round"/>
<path d="M952.2 533.2L953.89 509.06A24.2 24.2 0 0 1 968.08 551.46Z" fill="#e8b865" stroke="#e8b865" stroke-width="0.5" stroke-linejoin="round"/>
<path d="M952.2 533.2L968.08 551.46A24.2 24.2 0 0 1 966.76 552.53Z" fill="#5db345" stroke="#5db345" stroke-width="0.5" stroke-linejoin="round"/>
<path d="M952.2 533.2L966.76 552.53A24.2 24.2 0 0 1 960.48 555.94Z" fill="#a07a70" stroke="#a07a70" stroke-width="0.5" stroke-linejoin="round"/>
<path d="M952.2 533.2L960.48 555.94A24.2 24.2 0 1 1 952.2 509Z" fill="#4e8878" stroke="#4e8878" stroke-width="0.5" stroke-linejoin="round"/>
<path d="M1176.2 628.2L1176.2 604A24.2 24.2 0 0 1 1177.89 604.06Z" fill="#d9417b" stroke="#d9417b" stroke-width="0.5" stroke-linejoin="round"/>
<path d="M1176.2 628.2L1177.89 604.06A24.2 24.2 0 0 1 1197.03 640.52Z" fill="#e8b865" stroke="#e8b865" stroke-width="0.5" stroke-linejoin="round"/>
<path d="M1176.2 628.2L1197.03 640.52A24.2 24.2 0 0 1 1196.83 640.84Z" fill="#a07a70" stroke="#a07a70" stroke-width="0.5" stroke-linejoin="round"/>
<path d="M1176.2 628.2L1196.83 640.84A24.2 24.2 0 1 1 1176.2 604Z" fill="#4e8878" stroke="#4e8878" stroke-width="0.5" stroke-linejoin="round"/>
<rect x="1108.9" y="446.9" width="6" height="6" fill="#d9417b"/>
<text x="1121.8" y="456.1">Power</text>
<rect x="1108.9" y="470" width="6" height="6" fill="#e8b865"/>
<text x="1121.8" y="479.2">Industry</text>
<rect x="1108.9" y="493" width="6" height="6" fill="#5db345"/>
<text x="1121.8" y="502.2">Agriculture</text>
<rect x="1108.9" y="516.1" width="6" height="6" fill="#a07a70"/>
<text x="1121.8" y="525.3">Building</text>
<rect x="1108.9" y="539.7" width="6" height="6" fill="#4e8878"/>
<text x="1121.8" y="548.9">Transport</text>
<rect x="692.7" y="890.96" width="38.6" height="238.94" fill="#817a81"/>
<rect x="738.97" y="890.96" width="38.6" height="18.89" fill="#d9417b"/>
<rect x="785.24" y="909.85" width="38.6" height="47.97" fill="#e8b865"/>
<rect x="831.51" y="957.81" width="38.6" height="23.68" fill="#a07a70"/>
<rect x="877.78" y="981.2" width="38.6" height="5.1" fill="#4e8878"/>
<rect x="924.05" y="986" width="38.6" height="143.9" fill="#7572a8"/>
<rect x="970.32" y="986.6" width="38.6" height="1.8" fill="#d9417b"/>
<rect x="1016.59" y="988.99" width="38.6" height="71.65" fill="#e8b865"/>
<rect x="1062.86" y="1060.05" width="38.6" height="29.68" fill="#a07a70"/>
<rect x="1109.13" y="1090.63" width="38.6" height="3.6" fill="#4e8878"/>
<rect x="1155.4" y="1093.92" width="38.6" height="35.98" fill="#b5655e"/>
<path d="M688.6 860.08V1129.9" stroke="#231f20" stroke-width="2" fill="none"/>
<path d="M681.6 1129.9H1198.2" stroke="#231f20" stroke-width="2" fill="none"/>
<path d="M681.6 1129.9H688.6" stroke="#231f20" stroke-width="2"/>
<text x="673.6" y="1136.2" text-anchor="end">0</text>
<path d="M681.6 1099.92H688.6" stroke="#231f20" stroke-width="2"/>
<text x="673.6" y="1106.22" text-anchor="end">1</text>
<path d="M681.6 1069.94H688.6" stroke="#231f20" stroke-width="2"/>
<text x="673.6" y="1076.24" text-anchor="end">2</text>
<path d="M681.6 1039.96H688.6" stroke="#231f20" stroke-width="2"/>
<text x="673.6" y="1046.26" text-anchor="end">3</text>
<path d="M681.6 1009.98H688.6" stroke="#231f20" stroke-width="2"/>
<text x="673.6" y="1016.28" text-anchor="end">4</text>
<path d="M681.6 980H688.6" stroke="#231f20" stroke-width="2"/>
<text x="673.6" y="986.3" text-anchor="end">5</text>
<path d="M681.6 950.02H688.6" stroke="#231f20" stroke-width="2"/>
<text x="673.6" y="956.32" text-anchor="end">6</text>
<path d="M681.6 920.04H688.6" stroke="#231f20" stroke-width="2"/>
<text x="673.6" y="926.34" text-anchor="end">7</text>
<path d="M681.6 890.06H688.6" stroke="#231f20" stroke-width="2"/>
<text x="673.6" y="896.36" text-anchor="end">8</text>
<path d="M681.6 860.08H688.6" stroke="#231f20" stroke-width="2"/>
<text x="673.6" y="866.38" text-anchor="end">9</text>
<text x="712" y="887.96" text-anchor="middle">8.0</text>
<text x="943.35" y="983" text-anchor="middle">4.8</text>
<text x="1174.7" y="1090.92" text-anchor="middle">1.2</text>
<text transform="translate(720.5 1153.4) rotate(-60)" text-anchor="end" font-size="19">2020</text>
<text transform="translate(766.77 1153.4) rotate(-60)" text-anchor="end" font-size="19">Power</text>
<text transform="translate(813.04 1153.4) rotate(-60)" text-anchor="end" font-size="19">Industry</text>
<text transform="translate(859.31 1153.4) rotate(-60)" text-anchor="end" font-size="19">Building</text>
<text transform="translate(905.58 1153.4) rotate(-60)" text-anchor="end" font-size="19">Transport</text>
<text transform="translate(951.85 1153.4) rotate(-60)" text-anchor="end" font-size="19">2035</text>
<text transform="translate(998.12 1153.4) rotate(-60)" text-anchor="end" font-size="19">Power</text>
<text transform="translate(1044.39 1153.4) rotate(-60)" text-anchor="end" font-size="19">Industry</text>
<text transform="translate(1090.66 1153.4) rotate(-60)" text-anchor="end" font-size="19">Building</text>
<text transform="translate(1136.93 1153.4) rotate(-60)" text-anchor="end" font-size="19">Transport</text>
<text transform="translate(1183.2 1153.4) rotate(-60)" text-anchor="end" font-size="19">2050</text>
<text transform="translate(643.9 1006.5) rotate(-90)" text-anchor="middle">PM<tspan font-size="12" dy="4.5">10</tspan><tspan dy="-4.5"> emission (Mt)</tspan></text>
<path d="M716.4 843.7L716.4 819.5A24.2 24.2 0 0 1 729.22 823.18Z" fill="#d9417b" stroke="#d9417b" stroke-width="0.5" stroke-linejoin="round"/>
<path d="M716.4 843.7L729.22 823.18A24.2 24.2 0 1 1 693.96 852.77Z" fill="#e8b865" stroke="#e8b865" stroke-width="0.5" stroke-linejoin="round"/>
<path d="M716.4 843.7L693.96 852.77A24.2 24.2 0 0 1 692.57 847.9Z" fill="#5db345" stroke="#5db345" stroke-width="0.5" stroke-linejoin="round"/>
<path d="M716.4 843.7L692.57 847.9A24.2 24.2 0 0 1 709.53 820.5Z" fill="#a07a70" stroke="#a07a70" stroke-width="0.5" stroke-linejoin="round"/>
<path d="M716.4 843.7L709.53 820.5A24.2 24.2 0 0 1 716.4 819.5Z" fill="#4e8878" stroke="#4e8878" stroke-width="0.5" stroke-linejoin="round"/>
<path d="M946.2 935.2L946.2 911A24.2 24.2 0 0 1 947.89 911.06Z" fill="#d9417b" stroke="#d9417b" stroke-width="0.5" stroke-linejoin="round"/>
<path d="M946.2 935.2L947.89 911.06A24.2 24.2 0 1 1 923.76 944.27Z" fill="#e8b865" stroke="#e8b865" stroke-width="0.5" stroke-linejoin="round"/>
<path d="M946.2 935.2L923.76 944.27A24.2 24.2 0 0 1 922 935.62Z" fill="#5db345" stroke="#5db345" stroke-width="0.5" stroke-linejoin="round"/>
<path d="M946.2 935.2L922 935.62A24.2 24.2 0 0 1 939.94 911.82Z" fill="#a07a70" stroke="#a07a70" stroke-width="0.5" stroke-linejoin="round"/>
<path d="M946.2 935.2L939.94 911.82A24.2 24.2 0 0 1 946.2 911Z" fill="#4e8878" stroke="#4e8878" stroke-width="0.5" stroke-linejoin="round"/>
<path d="M1175.2 1037.2L1175.2 1013A24.2 24.2 0 0 1 1176.89 1013.06Z" fill="#d9417b" stroke="#d9417b" stroke-width="0.5" stroke-linejoin="round"/>
<path d="M1175.2 1037.2L1176.89 1013.06A24.2 24.2 0 1 1 1152.52 1028.76Z" fill="#e8b865" stroke="#e8b865" stroke-width="0.5" stroke-linejoin="round"/>
<path d="M1175.2 1037.2L1152.52 1028.76A24.2 24.2 0 0 1 1158.09 1020.09Z" fill="#5db345" stroke="#5db345" stroke-width="0.5" stroke-linejoin="round"/>
<path d="M1175.2 1037.2L1158.09 1020.09A24.2 24.2 0 0 1 1165.51 1015.02Z" fill="#a07a70" stroke="#a07a70" stroke-width="0.5" stroke-linejoin="round"/>
<path d="M1175.2 1037.2L1165.51 1015.02A24.2 24.2 0 0 1 1175.2 1013Z" fill="#4e8878" stroke="#4e8878" stroke-width="0.5" stroke-linejoin="round"/>
<rect x="1108.9" y="844.8" width="6" height="6" fill="#d9417b"/>
<text x="1121.8" y="854">Power</text>
<rect x="1108.9" y="867.8" width="6" height="6" fill="#e8b865"/>
<text x="1121.8" y="877">Industry</text>
<rect x="1108.9" y="890.8" width="6" height="6" fill="#5db345"/>
<text x="1121.8" y="900">Agriculture</text>
<rect x="1108.9" y="914.4" width="6" height="6" fill="#a07a70"/>
<text x="1121.8" y="923.6">Building</text>
<rect x="1108.9" y="937.5" width="6" height="6" fill="#4e8878"/>
<text x="1121.8" y="946.7">Transport</text>
<rect x="692.7" y="1309.63" width="38.6" height="223.47" fill="#817a81"/>
<rect x="738.97" y="1309.63" width="38.6" height="12.71" fill="#d9417b"/>
<rect x="785.24" y="1322.34" width="38.6" height="40.07" fill="#e8b865"/>
<rect x="831.51" y="1362.41" width="38.6" height="29.67" fill="#a07a70"/>
<rect x="877.78" y="1391.69" width="38.6" height="5.39" fill="#4e8878"/>
<rect x="924.05" y="1397.47" width="38.6" height="135.63" fill="#7572a8"/>
<rect x="970.32" y="1398.24" width="38.6" height="1.2" fill="#d9417b"/>
<rect x="1016.59" y="1398.24" width="38.6" height="60.11" fill="#e8b865"/>
<rect x="1062.86" y="1459.12" width="38.6" height="37.76" fill="#a07a70"/>
<rect x="1109.13" y="1496.5" width="38.6" height="4.24" fill="#4e8878"/>
<rect x="1155.4" y="1501.51" width="38.6" height="31.59" fill="#b5655e"/>
<path d="M688.6 1263.39V1533.1" stroke="#231f20" stroke-width="2" fill="none"/>
<path d="M681.6 1533.1H1198.2" stroke="#231f20" stroke-width="2" fill="none"/>
<path d="M681.6 1533.1H688.6" stroke="#231f20" stroke-width="2"/>
<text x="673.6" y="1539.4" text-anchor="end">0</text>
<path d="M681.6 1494.57H688.6" stroke="#231f20" stroke-width="2"/>
<text x="673.6" y="1500.87" text-anchor="end">1</text>
<path d="M681.6 1456.04H688.6" stroke="#231f20" stroke-width="2"/>
<text x="673.6" y="1462.34" text-anchor="end">2</text>
<path d="M681.6 1417.51H688.6" stroke="#231f20" stroke-width="2"/>
<text x="673.6" y="1423.81" text-anchor="end">3</text>
<path d="M681.6 1378.98H688.6" stroke="#231f20" stroke-width="2"/>
<text x="673.6" y="1385.28" text-anchor="end">4</text>
<path d="M681.6 1340.45H688.6" stroke="#231f20" stroke-width="2"/>
<text x="673.6" y="1346.75" text-anchor="end">5</text>
<path d="M681.6 1301.92H688.6" stroke="#231f20" stroke-width="2"/>
<text x="673.6" y="1308.22" text-anchor="end">6</text>
<path d="M681.6 1263.39H688.6" stroke="#231f20" stroke-width="2"/>
<text x="673.6" y="1269.69" text-anchor="end">7</text>
<text x="712" y="1306.63" text-anchor="middle">5.8</text>
<text x="943.35" y="1394.47" text-anchor="middle">3.5</text>
<text x="1174.7" y="1498.51" text-anchor="middle">0.8</text>
<text transform="translate(720.5 1556.6) rotate(-60)" text-anchor="end" font-size="19">2020</text>
<text transform="translate(766.77 1556.6) rotate(-60)" text-anchor="end" font-size="19">Power</text>
<text transform="translate(813.04 1556.6) rotate(-60)" text-anchor="end" font-size="19">Industry</text>
<text transform="translate(859.31 1556.6) rotate(-60)" text-anchor="end" font-size="19">Building</text>
<text transform="translate(905.58 1556.6) rotate(-60)" text-anchor="end" font-size="19">Transport</text>
<text transform="translate(951.85 1556.6) rotate(-60)" text-anchor="end" font-size="19">2035</text>
<text transform="translate(998.12 1556.6) rotate(-60)" text-anchor="end" font-size="19">Power</text>
<text transform="translate(1044.39 1556.6) rotate(-60)" text-anchor="end" font-size="19">Industry</text>
<text transform="translate(1090.66 1556.6) rotate(-60)" text-anchor="end" font-size="19">Building</text>
<text transform="translate(1136.93 1556.6) rotate(-60)" text-anchor="end" font-size="19">Transport</text>
<text transform="translate(1183.2 1556.6) rotate(-60)" text-anchor="end" font-size="19">2050</text>
<text transform="translate(643.9 1414.5) rotate(-90)" text-anchor="middle">PM<tspan font-size="12" dy="4.5">2.5</tspan><tspan dy="-4.5"> emission (Mt)</tspan></text>
<path d="M716.9 1261.7L716.9 1237.5A24.2 24.2 0 0 1 726.16 1239.34Z" fill="#d9417b" stroke="#d9417b" stroke-width="0.5" stroke-linejoin="round"/>
<path d="M716.9 1261.7L726.16 1239.34A24.2 24.2 0 1 1 702.24 1280.95Z" fill="#e8b865" stroke="#e8b865" stroke-width="0.5" stroke-linejoin="round"/>
<path d="M716.9 1261.7L702.24 1280.95A24.2 24.2 0 0 1 696.93 1275.37Z" fill="#5db345" stroke="#5db345" stroke-width="0.5" stroke-linejoin="round"/>
<path d="M716.9 1261.7L696.93 1275.37A24.2 24.2 0 0 1 709.26 1238.74Z" fill="#a07a70" stroke="#a07a70" stroke-width="0.5" stroke-linejoin="round"/>
<path d="M716.9 1261.7L709.26 1238.74A24.2 24.2 0 0 1 716.9 1237.5Z" fill="#4e8878" stroke="#4e8878" stroke-width="0.5" stroke-linejoin="round"/>
<path d="M946.2 1345.2L946.2 1321A24.2 24.2 0 0 1 947.89 1321.06Z" fill="#d9417b" stroke="#d9417b" stroke-width="0.5" stroke-linejoin="round"/>
<path d="M946.2 1345.2L947.89 1321.06A24.2 24.2 0 1 1 930.64 1363.74Z" fill="#e8b865" stroke="#e8b865" stroke-width="0.5" stroke-linejoin="round"/>
<path d="M946.2 1345.2L930.64 1363.74A24.2 24.2 0 0 1 924.91 1356.71Z" fill="#5db345" stroke="#5db345" stroke-width="0.5" stroke-linejoin="round"/>
<path d="M946.2 1345.2L924.91 1356.71A24.2 24.2 0 0 1 939.04 1322.08Z" fill="#a07a70" stroke="#a07a70" stroke-width="0.5" stroke-linejoin="round"/>
<path d="M946.2 1345.2L939.04 1322.08A24.2 24.2 0 0 1 946.2 1321Z" fill="#4e8878" stroke="#4e8878" stroke-width="0.5" stroke-linejoin="round"/>
<path d="M1176.2 1446.2L1176.2 1422A24.2 24.2 0 0 1 1179.57 1422.24Z" fill="#d9417b" stroke="#d9417b" stroke-width="0.5" stroke-linejoin="round"/>
<path d="M1176.2 1446.2L1179.57 1422.24A24.2 24.2 0 1 1 1152.11 1443.88Z" fill="#e8b865" stroke="#e8b865" stroke-width="0.5" stroke-linejoin="round"/>
<path d="M1176.2 1446.2L1152.11 1443.88A24.2 24.2 0 0 1 1154.83 1434.84Z" fill="#5db345" stroke="#5db345" stroke-width="0.5" stroke-linejoin="round"/>
<path d="M1176.2 1446.2L1154.83 1434.84A24.2 24.2 0 0 1 1164.62 1424.95Z" fill="#a07a70" stroke="#a07a70" stroke-width="0.5" stroke-linejoin="round"/>
<path d="M1176.2 1446.2L1164.62 1424.95A24.2 24.2 0 0 1 1176.2 1422Z" fill="#4e8878" stroke="#4e8878" stroke-width="0.5" stroke-linejoin="round"/>
<rect x="1105.3" y="1262.5" width="8" height="8" fill="#d9417b"/>
<text x="1120.9" y="1272.7">Power</text>
<rect x="1105.3" y="1285.7" width="8" height="8" fill="#e8b865"/>
<text x="1120.9" y="1295.9">Industry</text>
<rect x="1105.3" y="1308.5" width="8" height="8" fill="#5db345"/>
<text x="1120.9" y="1318.7">Agriculture</text>
<rect x="1105.3" y="1331.7" width="8" height="8" fill="#a07a70"/>
<text x="1120.9" y="1341.9">Building</text>
<rect x="1105.3" y="1354.9" width="8" height="8" fill="#4e8878"/>
<text x="1120.9" y="1365.1">Transport</text>
<text x="55.5 167.5 190.4 213.3 236.2 259.1 282 304.9 327.8 350.7 373.6 396.5 419.4 442.3 465.2 488.1 511 533.9 556.8 579.7 602.6 625.5 720.5 743.2 766.4 781 949 971 1131.5 1155 1177.5" y="1676" fill="#2463a6" font-size="21" style="stroke:none">图减排对局地空气污染物治理的协同效应（左）和情景下，年和年两段</text>
<text x="78 91 105 120 135.5 648.5 664 678 694 701.5 812 826.1 840.2 854.3 893.2 907.3 921.4 935.5 995.1 1009.25 1023.4 1037.55 1076.9 1091 1105.1 1119.2" y="1676" fill="#2463a6" font-size="22" style="stroke:none">10.COP25-H2020203520352050</text>
<text x="155.5" y="1681" fill="#2463a6" font-size="16" style="stroke:none">2</text>
<rect x="868.3" y="1668.8" width="22.3" height="1.9" fill="#2463a6"/>
<rect x="1051.5" y="1668.8" width="22.3" height="1.9" fill="#2463a6"/>
<text x="54.5 77.28 100.06 122.84 145.62 168.4 191.18 213.96 236.74 259.52 282.3 305.08 327.86 350.64 373.42 396.2 418.98 441.76 464.54 487.32 510.1 532.88 555.66 578.44 601.22 624" y="1720" fill="#2463a6" font-size="21" style="stroke:none">时期，各部门对于局地空气污染物减排的贡献分解（右）。</text>
</svg>
</body></html>
